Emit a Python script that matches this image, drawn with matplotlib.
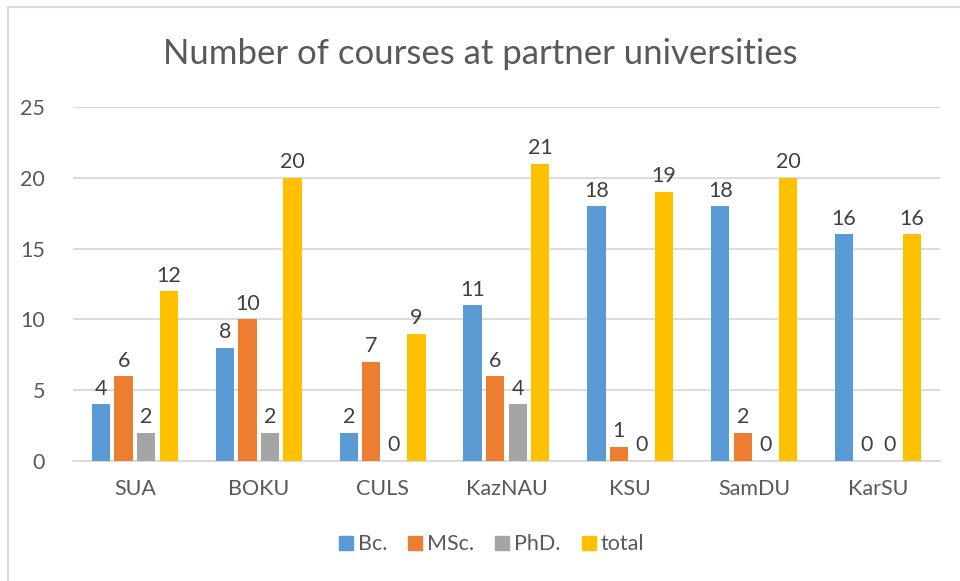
import numpy as np
import matplotlib.pyplot as plt
from matplotlib.lines import Line2D

plt.rcParams['font.family'] = ['Lato', 'DejaVu Sans']

# data
universities = ["SUA", "BOKU", "CULS", "KazNAU", "KSU", "SamDU", "KarSU"]
bc = [4, 8, 2, 11, 18, 18, 16]
msc = [6, 10, 7, 6, 1, 2, 0]
phd = [2, 2, 0, 4, 0, 0, 0]
total = [12, 20, 9, 21, 19, 20, 16]
series_names = ["Bc.", "MSc.", "PhD.", "total"]
colors = ["#5B9BD5", "#ED7D31", "#A5A5A5", "#FFC000"]
yticks = [0, 5, 10, 15, 20, 25]

txt = "#595959"

fig = plt.figure(figsize=(9.6, 5.81), dpi=100)
ax = fig.add_axes([0.076, 0.2065, 0.903, 0.6093])

x = np.arange(len(universities))
step = 0.182
width = 0.148
for i, (vals, c) in enumerate(zip([bc, msc, phd, total], colors)):
    pos = x + (i - 1.5) * step
    bars = ax.bar(pos, vals, width, color=c, zorder=3)
    for b, v in zip(bars, vals):
        ax.annotate(str(v), (b.get_x() + b.get_width() / 2, v),
                    xytext=(0, 4), textcoords="offset points",
                    ha="center", va="bottom", fontsize=15.5, color="#404040")

ax.set_xlim(-0.5, len(universities) - 0.5)
ax.set_ylim(0, 25)
ax.set_yticks(yticks)
ax.set_xticks(x)
ax.set_xticklabels(universities)
ax.tick_params(axis="both", length=0, labelsize=15.5, labelcolor=txt)
ax.tick_params(axis="y", pad=20)
ax.tick_params(axis="x", pad=13)
ax.grid(axis="y", color="#D9D9D9", linewidth=1.3, zorder=0)
for s in ["top", "right", "left"]:
    ax.spines[s].set_visible(False)
ax.spines["bottom"].set_color("#D9D9D9")
ax.spines["bottom"].set_linewidth(1.3)

fig.text(0.5, 0.907, "Number of courses at partner universities",
         ha="center", va="center", fontsize=25, color=txt)

handles = [Line2D([], [], marker="s", linestyle="none", markersize=10,
                  markerfacecolor=c, markeredgecolor=c) for c in colors]
fig.legend(handles, series_names, loc="center", bbox_to_anchor=(0.51, 0.063),
           ncol=4, frameon=False, fontsize=15.5, labelcolor=txt,
           handletextpad=0.05, columnspacing=0.8, handlelength=1.0)

# chart border (only top and left visible in the crop)
fig.add_artist(Line2D([0.0085, 0.0085], [0, 0.988], color="#D9D9D9", lw=1.5))
fig.add_artist(Line2D([0.0085, 1], [0.988, 0.988], color="#D9D9D9", lw=1.5))

fig.savefig("out.png", dpi=100)
